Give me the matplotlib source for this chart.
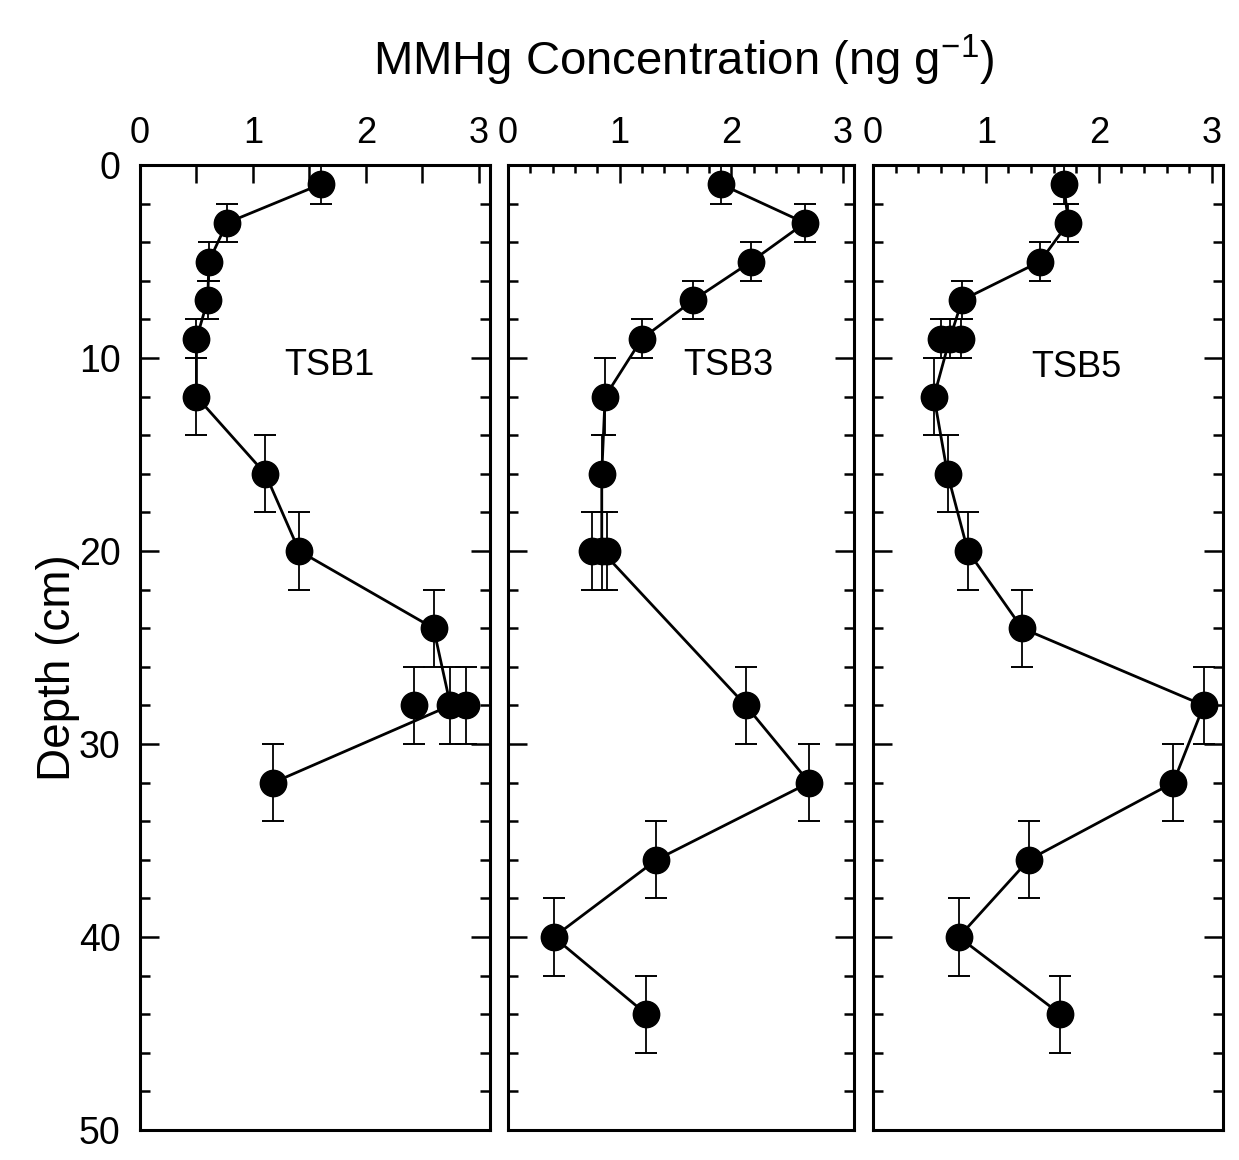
import matplotlib
matplotlib.use("Agg")
import matplotlib.pyplot as plt
from matplotlib.ticker import MultipleLocator

plt.rcParams['font.family'] = ['Liberation Sans', 'DejaVu Sans']
plt.rcParams['mathtext.fontset'] = 'custom'
plt.rcParams['mathtext.rm'] = 'Liberation Sans'
plt.rcParams['mathtext.default'] = 'regular'

# core TSB1 - depth (cm), MMHg (ng/g), depth error (cm)
tsb1_depth = [1, 3, 5, 7, 9, 12, 16, 20, 24, 28, 32]
tsb1_conc = [1.60, 0.77, 0.61, 0.60, 0.50, 0.50, 1.11, 1.41, 2.60, 2.75, 1.18]
tsb1_err = [1, 1, 1, 1, 1, 2, 2, 2, 2, 2, 2]
tsb1_rep_depth = [28, 28]
tsb1_rep_conc = [2.43, 2.89]

# core TSB3
tsb3_depth = [1, 3, 5, 7, 9, 12, 16, 20, 28, 32, 36, 40, 44]
tsb3_conc = [1.91, 2.66, 2.18, 1.66, 1.20, 0.87, 0.84, 0.84, 2.13, 2.70, 1.33, 0.41, 1.24]
tsb3_err = [1, 1, 1, 1, 1, 2, 2, 2, 2, 2, 2, 2, 2]
tsb3_rep_depth = [20, 20]
tsb3_rep_conc = [0.75, 0.89]

# core TSB5
tsb5_depth = [1, 3, 5, 7, 9, 12, 16, 20, 24, 28, 32, 36, 40, 44]
tsb5_conc = [1.69, 1.73, 1.48, 0.79, 0.68, 0.54, 0.66, 0.84, 1.32, 2.93, 2.66, 1.38, 0.76, 1.66]
tsb5_err = [1, 1, 1, 1, 1, 2, 2, 2, 2, 2, 2, 2, 2, 2]
tsb5_rep_depth = [9, 9]
tsb5_rep_conc = [0.60, 0.78]

cores = [
    ("TSB1", tsb1_depth, tsb1_conc, tsb1_err, tsb1_rep_depth, tsb1_rep_conc, (1.68, 10.4)),
    ("TSB3", tsb3_depth, tsb3_conc, tsb3_err, tsb3_rep_depth, tsb3_rep_conc, (1.97, 10.4)),
    ("TSB5", tsb5_depth, tsb5_conc, tsb5_err, tsb5_rep_depth, tsb5_rep_conc, (1.80, 10.5)),
]

W, H = 1239, 1160
fig = plt.figure(figsize=(W / 100, H / 100), dpi=100)

# panel positions in pixels (left, width)
panels = [(140, 350), (508, 346), (873, 350)]
top_px, bot_px = 165, 1130

for i, (name, depth, conc, err, rdep, rconc, lab) in enumerate(cores):
    left, width = panels[i]
    ax = fig.add_axes([left / W, (H - bot_px) / H, width / W, (bot_px - top_px) / H])

    # replicate samples (not on the line)
    ax.errorbar(rconc, rdep, yerr=[err[depth.index(rdep[0])]] * len(rdep), fmt='o',
                color='black', ms=19, elinewidth=1.3, capsize=8, capthick=1.4)
    ax.errorbar(conc, depth, yerr=err, fmt='-o', color='black', lw=2, ms=19,
                elinewidth=1.3, capsize=8, capthick=1.4)

    ax.text(lab[0], lab[1], name, fontsize=26, ha='center', va='center')

    ax.set_xlim(0, 3.1)
    ax.set_ylim(50, 0)

    for s in ax.spines.values():
        s.set_linewidth(2.2)

    ax.xaxis.set_major_locator(MultipleLocator(1))
    if i == 0:
        ax.xaxis.set_minor_locator(MultipleLocator(0.5))
    else:
        ax.xaxis.set_minor_locator(MultipleLocator(0.2))
    ax.yaxis.set_major_locator(MultipleLocator(10))
    ax.yaxis.set_minor_locator(MultipleLocator(2))

    ax.tick_params(axis='both', which='both', direction='in', top=True, bottom=False,
                   left=True, right=True, labeltop=True, labelbottom=False, width=1.8)
    ax.tick_params(axis='x', which='major', length=13, labelsize=26, pad=10)
    ax.tick_params(axis='x', which='minor', length=13 if i == 0 else 6)
    ax.tick_params(axis='y', which='major', length=14, labelsize=27, pad=14)
    ax.tick_params(axis='y', which='minor', length=7)
    if i > 0:
        ax.tick_params(axis='y', labelleft=False)

fig.text(0.552, 1 - 60 / H, "MMHg Concentration (ng g$^{-1}$)", fontsize=34,
         ha='center', va='center')
fig.text(58 / W, 1 - 668 / H, "Depth (cm)", fontsize=33, rotation=90,
         ha='center', va='center')

fig.savefig("out.png", dpi=100, facecolor='white')
